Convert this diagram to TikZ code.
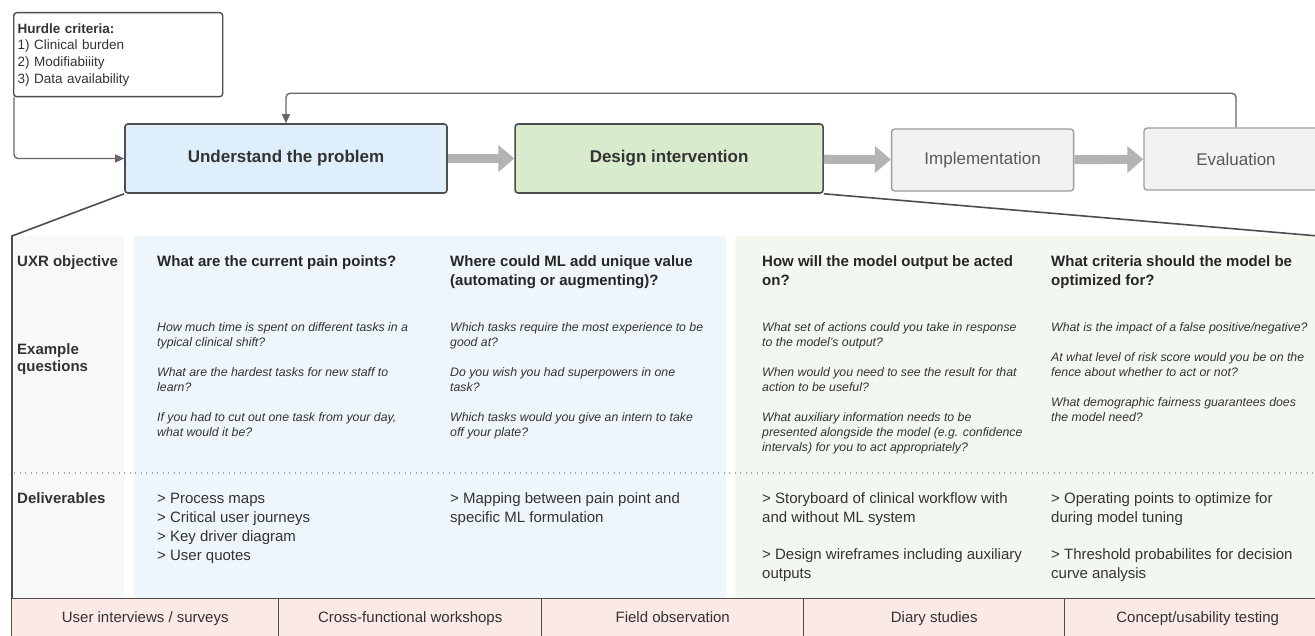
\documentclass[tikz,border=0pt]{standalone}
\usepackage{fontspec}
\setmainfont{Liberation Sans}
\usetikzlibrary{arrows.meta}
\usetikzlibrary{positioning}

\definecolor{ink}{HTML}{333333}
\definecolor{edge}{HTML}{4D4D4D}
\definecolor{wire}{HTML}{666666}
\definecolor{fatgray}{HTML}{B3B3B3}
\definecolor{probfill}{HTML}{DEEEFA}
\definecolor{designfill}{HTML}{D8EBCC}
\definecolor{stepfill}{HTML}{F2F2F2}
\definecolor{stepedge}{HTML}{9E9E9E}
\definecolor{bluepanel}{HTML}{EFF6FB}
\definecolor{greenpanel}{HTML}{F2F8EF}
\definecolor{graypanel}{HTML}{F8F8F8}
\definecolor{methodfill}{HTML}{FAE9E6}

% top-aligned block of lines, baseline on the first line
\newcommand\cellstack[1]{\begin{tabular}[t]{@{}l@{}}#1\end{tabular}}

\tikzset{
  phase/.style={draw=edge, line width=1.6pt, rounded corners=3pt, minimum height=69pt,
    font=\bfseries\fontsize{17}{20}\selectfont, text=ink},
  later/.style={draw=stepedge, fill=stepfill, line width=1.4pt, rounded corners=3pt,
    minimum height=62pt, minimum width=182pt, font=\fontsize{17}{20}\selectfont, text=black!65},
  fat/.style={draw=fatgray, line width=9pt, -{Triangle[length=16pt,width=26pt]}},
  link/.style={draw=wire, line width=1.4pt, rounded corners=4pt, -{Triangle[length=9pt,width=8pt]}},
  hurdle/.style={draw=edge, line width=1.4pt, rounded corners=3pt, anchor=north west,
    text width=201pt, inner xsep=4pt, minimum height=84pt, align=left,
    font=\fontsize{13.5}{16.7}\selectfont, text=ink},
  rowlabel/.style={anchor=base west, inner sep=0pt, text=ink,
    font=\bfseries\fontsize{15}{17}\selectfont},
  colhead/.style={anchor=base west, inner sep=0pt, text=black!85,
    font=\bfseries\fontsize{15}{19}\selectfont},
  question/.style={anchor=base west, inner sep=0pt, text=ink,
    font=\itshape\fontsize{12.3}{15}\selectfont},
  deliv/.style={anchor=base west, inner sep=0pt, text=ink,
    font=\fontsize{15}{19}\selectfont},
  method/.style={draw=edge, fill=methodfill, line width=1.4pt, anchor=north west,
    minimum height=40pt, text height=11pt, text depth=3pt,
    font=\fontsize{15}{18}\selectfont, text=ink},
}

\begin{document}
\begin{tikzpicture}[x=1pt,y=-1pt]
    \useasboundingbox (0,0) rectangle (1315,636);
    \clip (0,0) rectangle (1315,636);
    \fill[white] (0,0) rectangle (1315,636);

    % background panels
    \fill[graypanel, rounded corners=3pt] (13,236) rectangle (124,598);
    \fill[bluepanel, rounded corners=3pt] (134,236) rectangle (726,598);
    \fill[greenpanel, rounded corners=3pt] (735,236) rectangle (1330,598);
    \draw[black!35, line width=1.2pt, dash pattern=on 1.2pt off 4.3pt] (14,473) -- (1315,473);

    % process row
    \node [phase,fill=probfill,minimum width=322pt] (und) at (286,158.5) {Understand the problem};
    \node [phase,fill=designfill,minimum width=308pt] (des) [right=66.5pt of und] {Design intervention};
    \node [later] (imp) [right=67pt of des,yshift=-1.5pt] {Implementation};
    \node [later,minimum width=184pt] (eva) [right=69pt of imp,yshift=1pt] {Evaluation};
    \node [hurdle] (hur) at (13,12) {\textbf{Hurdle criteria:}\\1) Clinical burden\\2) Modifiabiiity\\3) Data availability};

    \draw[fat] (und) -- (des);
    \draw[fat] (des) -- (imp);
    \draw[fat] (imp) -- (eva);
    \draw[link] (eva.north) -- ++(0,-34) -| (und.north);
    \draw[link] ([xshift=1pt]hur.south west) |- (und.west);

    % zoom-out lines to the detail panel
    \coordinate (lc) at (12,236);
    \coordinate (rc) at (1330,237);
    \draw[edge, line width=1.6pt] (und.south west) -- (lc) -- (12,600);
    \draw[edge, line width=1.6pt] (des.south east) -- (rc);

    % row labels
    \node [rowlabel] (uxr) at (17,267) {UXR objective};
    \node [rowlabel] (exq) at (17,355) {\cellstack{Example\\questions}};
    \node [rowlabel] (dlv) at (17,503) {Deliverables};

    % objectives
    \node [colhead] (h1) at (157,267) {What are the current pain points?};
    \node [colhead] (h2) at (450,267) {\cellstack{Where could ML add unique value\\(automating or augmenting)?}};
    \node [colhead] (h3) at (762,267) {\cellstack{How will the model output be acted\\on?}};
    \node [colhead] (h4) at (1051,267) {\cellstack{What criteria should the model be\\optimized for?}};

    % example questions
    \node [question] (q1) at (157,332) {\cellstack{How much time is spent on different tasks in a\\typical clinical shift?\\[15pt]What are the hardest tasks for new staff to\\learn?\\[15pt]If you had to cut out one task from your day,\\what would it be?}};
    \node [question] (q2) at (450,332) {\cellstack{Which tasks require the most experience to be\\good at?\\[15pt]Do you wish you had superpowers in one\\task?\\[15pt]Which tasks would you give an intern to take\\off your plate?}};
    \node [question] (q3) at (762,332) {\cellstack{What set of actions could you take in response\\to the model's output?\\[15pt]When would you need to see the result for that\\action to be useful?\\[15pt]What auxiliary information needs to be\\presented alongside the model (e.g. confidence\\intervals) for you to act appropriately?}};
    \node [question] (q4) at (1051,332) {\cellstack{What is the impact of a false positive/negative?\\[15pt]At what level of risk score would you be on the\\fence about whether to act or not?\\[15pt]What demographic fairness guarantees does\\the model need?}};

    % deliverables
    \node [deliv] (d1) at (157,503) {\cellstack{> Process maps\\> Critical user journeys\\> Key driver diagram\\> User quotes}};
    \node [deliv] (d2) at (450,503) {\cellstack{> Mapping between pain point and\\specific ML formulation}};
    \node [deliv] (d3) at (762,503) {\cellstack{> Storyboard of clinical workflow with\\and without ML system\\[18pt]> Design wireframes including auxiliary\\outputs}};
    \node [deliv] (d4) at (1051,503) {\cellstack{> Operating points to optimize for\\during model tuning\\[18pt]> Threshold probabilites for decision\\curve analysis}};

    % research methods
    \foreach \x/\w/\lbl [count=\i] in {11/267/{User interviews / surveys},278/263/{Cross-functional workshops},541/262/{Field observation},803/261/{Diary studies},1064/266/{Concept/usability testing}}
        \node [method,minimum width=\w pt] (m\i) at (\x,598) {\lbl};
\end{tikzpicture}
\end{document}
